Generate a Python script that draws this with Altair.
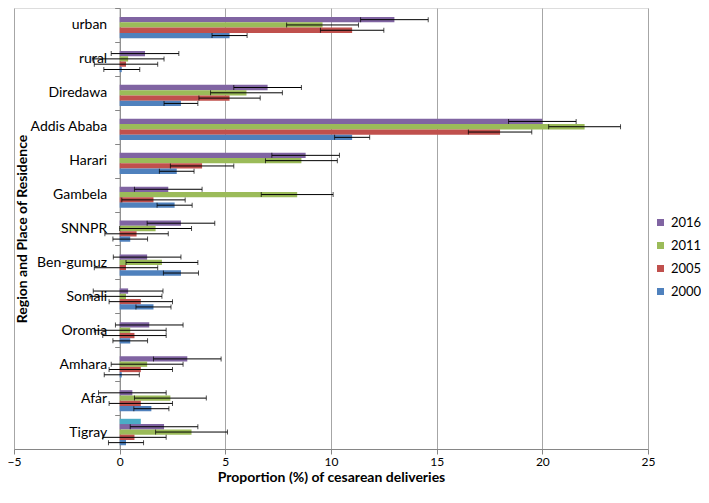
import altair as alt
import pandas as pd

regions = ["urban", "rural", "Diredawa", "Addis Ababa", "Harari", "Gambela", "SNNPR",
           "Ben-gumuz", "Somali", "Oromia", "Amhara", "Afar", "Tigray"]
years = ["2016", "2011", "2005", "2000"]

val_2016 = [13.0, 1.2, 7.0, 20.0, 8.8, 2.3, 2.9, 1.3, 0.4, 1.4, 3.2, 0.6, 2.1]
err_2016 = [1.6, 1.6, 1.6, 1.6, 1.6, 1.6, 1.6, 1.6, 1.65, 1.6, 1.6, 1.6, 1.6]
val_2011 = [9.6, 0.4, 6.0, 22.0, 8.6, 8.4, 1.7, 2.0, 0.3, 0.5, 1.3, 2.4, 3.4]
err_2011 = [1.7, 1.7, 1.7, 1.7, 1.7, 1.7, 1.7, 1.7, 1.7, 1.7, 1.7, 1.7, 1.7]
val_2005 = [11.0, 0.3, 5.2, 18.0, 3.9, 1.6, 0.8, 0.3, 1.0, 0.7, 1.0, 1.0, 0.7]
err_2005 = [1.5, 1.5, 1.45, 1.5, 1.5, 1.5, 1.5, 1.5, 1.5, 1.5, 1.5, 1.5, 1.5]
val_2000 = [5.2, 0.1, 2.9, 11.0, 2.7, 2.6, 0.5, 2.9, 1.6, 0.5, 0.1, 1.5, 0.3]
err_2000 = [0.83, 0.85, 0.8, 0.83, 0.82, 0.83, 0.82, 0.83, 0.83, 0.82, 0.83, 0.83, 0.83]

# unlabeled extra series that only appears for Tigray
extra_region = "Tigray"
extra_value = 1.0

order = ["extra", "2016", "2011", "2005", "2000"]
colors = ["#4BACC6", "#8064A2", "#9BBB59", "#C0504D", "#4F81BD"]

rows = []
for yr, vals, errs in [("2016", val_2016, err_2016), ("2011", val_2011, err_2011),
                       ("2005", val_2005, err_2005), ("2000", val_2000, err_2000)]:
    for r, v, e in zip(regions, vals, errs):
        rows.append({"region": r, "year": yr, "value": v, "lo": v - e, "hi": v + e})
rows.append({"region": extra_region, "year": "extra", "value": extra_value,
             "lo": None, "hi": None})
df = pd.DataFrame(rows)

FONT = "Lato"
W, H = 634, 441
PAD_L, PAD_T, PAD_R, PAD_B = 6, 0, 53, 41
XTITLE = "Proportion (%) of cesarean deliveries"
axis_x_px = W * 5 / 30  # position of value 0 inside the plot

yenc = alt.Y("region:N", sort=regions,
             scale=alt.Scale(paddingInner=0, paddingOuter=0),
             title="Region and Place of Residence",
             axis=alt.Axis(offset=-axis_x_px, domainColor="#868686", tickColor="#868686",
                           tickSize=5, tickBand="extent", labelFontSize=14,
                           labelColor="black", labelPadding=8, labelFont=FONT,
                           titleFont=FONT, titleFontSize=14, titleFontWeight="bold",
                           titleColor="black", titleX=-(axis_x_px - 8), titleY=H / 2,
                           titleAngle=270, titleBaseline="middle", titleAlign="center",
                           grid=False))
yoff = alt.YOffset("year:N", sort=order,
                   scale=alt.Scale(domain=order, paddingOuter=0.7, paddingInner=0))
xscale = alt.Scale(domain=[-5, 25], nice=False)
xaxis = alt.Axis(values=[-5, 0, 5, 10, 15, 20, 25], grid=True, gridColor="#A6A6A6",
                 domainColor="#868686", tickColor="#868686", tickSize=5,
                 labelFontSize=12, labelFont=FONT, labelColor="black", labelPadding=2,
                 titleFont=FONT, titleFontSize=14, titleFontWeight="bold",
                 titleColor="black", titlePadding=3, labelFlush=False)

bars = alt.Chart(df).mark_bar().encode(
    x=alt.X("value:Q", scale=xscale, axis=xaxis, title=XTITLE),
    x2=alt.datum(0),
    y=yenc,
    yOffset=yoff,
    color=alt.Color("year:N", scale=alt.Scale(domain=order, range=colors),
                    legend=alt.Legend(values=years, title=None, orient="none",
                                      legendX=W + 6, legendY=208, symbolType="square",
                                      symbolSize=49, symbolStrokeWidth=0,
                                      labelFontSize=13, labelFont=FONT,
                                      labelColor="black", rowPadding=9, padding=0,
                                      labelOffset=4)),
)

err_base = alt.Chart(df).transform_filter("isValid(datum.lo)")
rules = err_base.mark_rule(color="black", strokeWidth=1).encode(
    x=alt.X("lo:Q", scale=xscale, title=XTITLE),
    x2="hi:Q",
    y=alt.Y("region:N", sort=regions),
    yOffset=yoff,
)
cap_lo = err_base.mark_tick(color="black", thickness=1, size=5, orient="vertical").encode(
    x=alt.X("lo:Q", scale=xscale, title=XTITLE),
    y=alt.Y("region:N", sort=regions),
    yOffset=yoff,
)
cap_hi = err_base.mark_tick(color="black", thickness=1, size=5, orient="vertical").encode(
    x=alt.X("hi:Q", scale=xscale, title=XTITLE),
    y=alt.Y("region:N", sort=regions),
    yOffset=yoff,
)

chart = alt.layer(bars, rules, cap_lo, cap_hi).properties(
    width=W, height=H,
    padding={"left": PAD_L, "top": PAD_T, "right": PAD_R, "bottom": PAD_B},
    autosize=alt.AutoSizeParams(type="none"),
).configure_view(stroke=None).configure(font=FONT)

chart.save("out.html", embed_options={"renderer": "svg", "actions": False})
